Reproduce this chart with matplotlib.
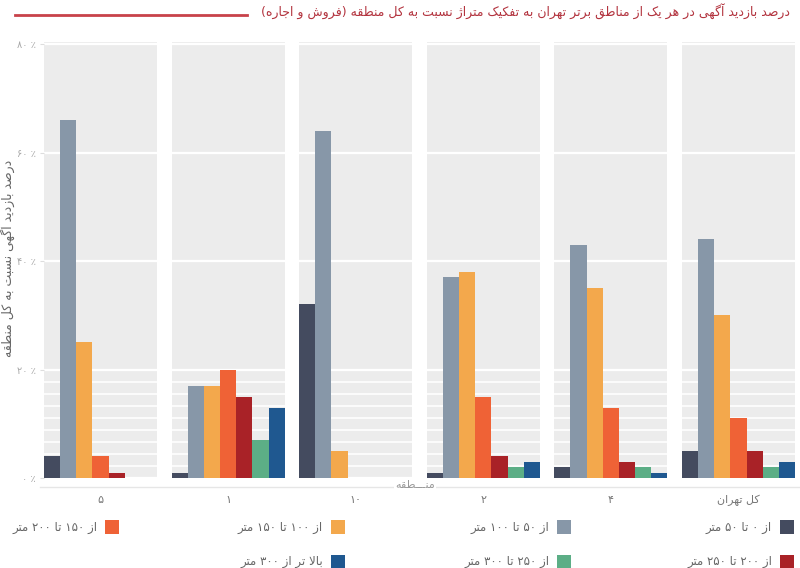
import re
import numpy as np
import matplotlib
matplotlib.use('Agg')
import matplotlib.pyplot as plt
from matplotlib.patches import Rectangle
from matplotlib.lines import Line2D

# ---- data ----
categories = ['۵', '۱', '۱۰', '۲', '۴', 'کل تهران']
series_labels = ['از ۰ تا ۵۰ متر', 'از ۵۰ تا ۱۰۰ متر', 'از ۱۰۰ تا ۱۵۰ متر',
                 'از ۱۵۰ تا ۲۰۰ متر', 'از ۲۰۰ تا ۲۵۰ متر', 'از ۲۵۰ تا ۳۰۰ متر',
                 'بالا تر از ۳۰۰ متر']
s_0_50 = [4, 1, 32, 1, 2, 5]
s_50_100 = [66, 17, 64, 37, 43, 44]
s_100_150 = [25, 17, 5, 38, 35, 30]
s_150_200 = [4, 20, 0, 15, 13, 11]
s_200_250 = [1, 15, 0, 4, 3, 5]
s_250_300 = [0, 7, 0, 2, 2, 2]
s_300_up = [0, 13, 0, 3, 1, 3]
y_ticks = [0, 20, 40, 60, 80]
y_tick_labels = ['۰ ٪', '۲۰ ٪', '۴۰ ٪', '۶۰ ٪', '۸۰ ٪']

title = 'درصد بازدید آگهی در هر یک از مناطق برتر تهران به تفکیک متراژ نسبت به کل منطقه (فروش و اجاره)'
y_label = 'درصد بازدید آگهی نسبت به کل منطقه'
x_label = 'منـــطقه'

series = [s_0_50, s_50_100, s_100_150, s_150_200, s_200_250, s_250_300, s_300_up]
colors = ['#444b5f', '#8797a8', '#f3a84c', '#ef6236', '#a92227', '#5cae86', '#1f5890']


# ---- tiny persian shaper (matplotlib has no arabic shaping / bidi) ----
def _dual(b):
    return (b, b + 1, b + 2, b + 3)


def _right(b):
    return (b, b + 1, None, None)


FORMS = {'آ': _right(0xFE81), 'ا': _right(0xFE8D), 'ب': _dual(0xFE8F), 'پ': _dual(0xFB56),
         'ت': _dual(0xFE95), 'ث': _dual(0xFE99), 'ج': _dual(0xFE9D), 'چ': _dual(0xFB7A),
         'ح': _dual(0xFEA1), 'خ': _dual(0xFEA5), 'د': _right(0xFEA9), 'ذ': _right(0xFEAB),
         'ر': _right(0xFEAD), 'ز': _right(0xFEAF), 'ژ': _right(0xFB8A), 'س': _dual(0xFEB1),
         'ش': _dual(0xFEB5), 'ص': _dual(0xFEB9), 'ض': _dual(0xFEBD), 'ط': _dual(0xFEC1),
         'ظ': _dual(0xFEC5), 'ع': _dual(0xFEC9), 'غ': _dual(0xFECD), 'ف': _dual(0xFED1),
         'ق': _dual(0xFED5), 'ک': _dual(0xFB8E), 'گ': _dual(0xFB92), 'ل': _dual(0xFEDD),
         'م': _dual(0xFEE1), 'ن': _dual(0xFEE5), 'و': _right(0xFEED), 'ه': _dual(0xFEE9),
         'ی': _dual(0xFBFC), 'ـ': (0x640, 0x640, 0x640, 0x640)}


def shape(text):
    out = []
    i = 0
    n = len(text)
    while i < n:
        c = text[i]
        if c not in FORMS:
            out.append(c)
            i += 1
            continue
        prev = text[i - 1] if i > 0 else ''
        joins_prev = prev in FORMS and FORMS[prev][2] is not None
        if c == 'ل' and i + 1 < n and text[i + 1] in 'اآ':
            iso, fin = (0xFEF5, 0xFEF6) if text[i + 1] == 'آ' else (0xFEFB, 0xFEFC)
            out.append(chr(fin if joins_prev else iso))
            i += 2
            continue
        nxt = text[i + 1] if i + 1 < n else ''
        iso, fin, ini, med = FORMS[c]
        joins_next = ini is not None and nxt in FORMS
        if joins_prev and joins_next:
            code = med
        elif joins_prev:
            code = fin
        elif joins_next:
            code = ini
        else:
            code = iso
        out.append(chr(code))
        i += 1
    return ''.join(out)


def fa(text):
    tokens = re.findall(r'[0-9۰-۹٪%]+|.', shape(text))
    mirror = {'(': ')', ')': '('}
    return ''.join(mirror.get(t, t) for t in reversed(tokens))


# ---- figure ----
fig = plt.figure(figsize=(8, 5.68), dpi=100)
ax = fig.add_axes([44 / 800, 1 - 478 / 568, 751 / 800, 436 / 568])

n_cat = len(categories)
panel_w = 0.887
bar_w = panel_w / len(series)
x = np.arange(n_cat)

for i in x:
    ax.axvspan(i, i + panel_w, color='#ececec', zorder=0, lw=0)

for j, (vals, col, lab) in enumerate(zip(series, colors, series_labels)):
    ax.bar(x + j * bar_w, vals, width=bar_w, align='edge', color=col,
           label=lab, zorder=3, lw=0)

ax.set_xlim(0, n_cat - 1 + panel_w)
ax.set_ylim(0, 80.4)
ax.set_axisbelow(True)
ax.set_yticks(y_ticks)
ax.set_yticklabels(y_tick_labels, fontsize=7, color='#a8a8a8')
ax.set_yticks(np.linspace(0, 20, 10)[1:-1], minor=True)
ax.grid(axis='y', which='major', color='white', lw=1.6)
ax.grid(axis='y', which='minor', color='white', lw=1.2)
ax.tick_params(axis='y', which='major', length=3, color='#dddddd', pad=3)
ax.tick_params(axis='y', which='minor', length=0)

ax.set_xticks(x + panel_w / 2)
ax.set_xticklabels([fa(c) for c in categories], fontsize=8, color='#777777')
ax.tick_params(axis='x', length=0, pad=12)
for s in ax.spines.values():
    s.set_visible(False)

# thin base line with the axis name sitting on it
fig.add_artist(Line2D([40 / 800, 1.0], [1 - 487 / 568] * 2, color='#e6e6e6', lw=1))
fig.text(415 / 800, 1 - 485 / 568, fa(x_label), ha='center', va='center',
         fontsize=8, color='#999999',
         bbox=dict(facecolor='white', edgecolor='none', pad=1))

fig.text(7 / 800, 1 - 258 / 568, fa(y_label), rotation=90, ha='center', va='center',
         fontsize=9, color='#666666')

# title + red rule
fig.text(790 / 800, 1 - 12 / 568, fa(title), ha='right', va='center',
         fontsize=9.0, color='#b3343f')
fig.add_artist(Line2D([15 / 800, 247 / 800], [1 - 15 / 568] * 2, color='#c8424a', lw=2))

# legend, laid out right to left like the original
leg = fig.add_axes([0, 0, 1, 1], zorder=-1)
leg.set_xlim(0, 800)
leg.set_ylim(568, 0)
leg.axis('off')
col_x = [780, 557, 331, 105]
row_y = [520, 555]
for k, (lab, col) in enumerate(zip(series_labels, colors)):
    sx = col_x[k % 4]
    sy = row_y[k // 4]
    leg.add_patch(Rectangle((sx, sy), 14, 14, facecolor=col, edgecolor='none'))
    leg.text(sx - 8, sy + 7, fa(lab), ha='right', va='center', fontsize=8.5, color='#666666')

fig.savefig('out.png', dpi=100)
